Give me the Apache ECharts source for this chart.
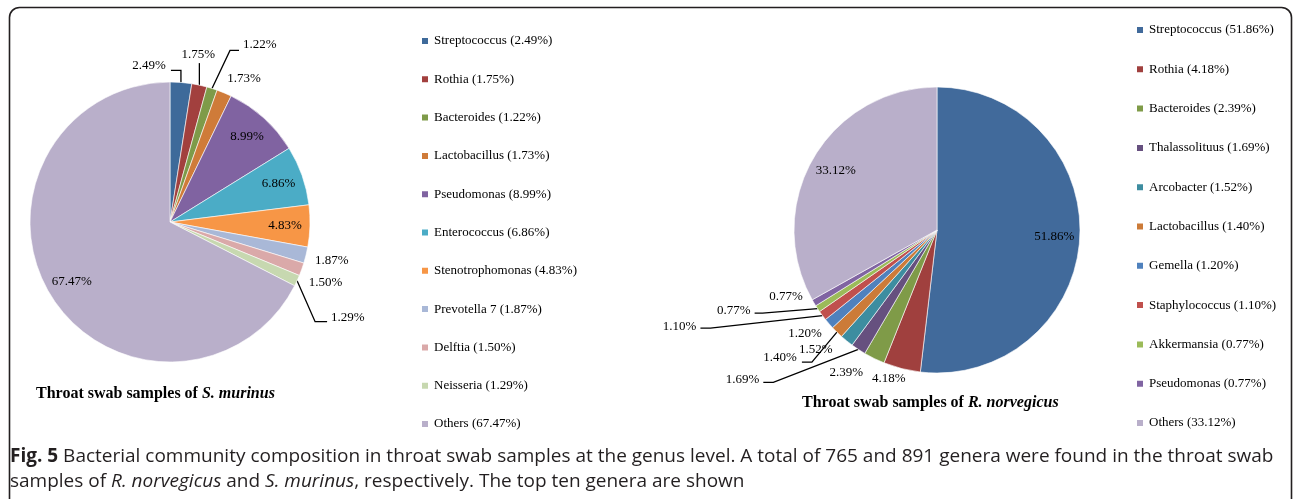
<!DOCTYPE html>
<html>
<head>
<meta charset="utf-8">
<script src="https://cdn.jsdelivr.net/npm/echarts@6.0.0/dist/echarts.min.js"></script>
<style>
    html, body { margin: 0; padding: 0; background: #fff; }
    #chart { width: 1295px; height: 499px; }
</style>
</head>
<body>
<div id="chart"></div>
<script>
    // S. murinus (left pie)
    const leftGenera = ['Streptococcus', 'Rothia', 'Bacteroides', 'Lactobacillus', 'Pseudomonas', 'Enterococcus',
        'Stenotrophomonas', 'Prevotella 7', 'Delftia', 'Neisseria', 'Others'];
    const leftValues = [2.49, 1.75, 1.22, 1.73, 8.99, 6.86, 4.83, 1.87, 1.50, 1.29, 67.47];

    // R. norvegicus (right pie)
    const rightGenera = ['Streptococcus', 'Rothia', 'Bacteroides', 'Thalassolituus', 'Arcobacter', 'Lactobacillus',
        'Gemella', 'Staphylococcus', 'Akkermansia', 'Pseudomonas', 'Others'];
    const rightValues = [51.86, 4.18, 2.39, 1.69, 1.52, 1.40, 1.20, 1.10, 0.77, 0.77, 33.12];

    const leftColors = ['#3E6A9A', '#A2403E', '#7E9B49', '#CF7B39', '#8063A1', '#4BACC6',
        '#F79646', '#A9B8D7', '#DAA9A9', '#C7D8B0', '#B9AFCA'];
    const rightColors = ['#416A9B', '#A0403E', '#7F9B48', '#66507F', '#3D8DA0', '#CC7B38',
        '#4F81BD', '#C0504D', '#9BBB59', '#8064A2', '#B9AFCA'];

    const serif = '"Liberation Serif", "Times New Roman", serif';
    const sans = '"Open Sans", "Noto Sans", sans-serif';

    const leftPie = {center: [170, 222], r: 140};
    const rightPie = {center: [937, 230], r: 143};

    // label spot for small slices, offset from the slice's outer edge (Excel-like leader lines)
    const leftPlace = [
        {text: [-15, -17], align: 'right', line: [[0, -12], [-10, -12]]},
        {text: [-1, -31], align: 'center', line: [[0, -22]]},
        {text: [31, -44], align: 'left', line: [[18, -38], [27, -38]]},
        {text: [3, -14], align: 'left'},
        null, null, null,
        {text: [9, 5], align: 'left'},
        {text: [7, 13], align: 'left'},
        {text: [34, 37], align: 'left', line: [[18, 41], [30, 41]]},
        null
    ];
    const rightPlace = [
        null,
        {text: [-13, 10], align: 'center'},
        {text: [-28, 14], align: 'center'},
        {text: [-99, 30], align: 'right', line: [[-85, 33], [-95, 33]]},
        {text: [-31, 9], align: 'center'},
        {text: [-40, 25], align: 'right', line: [[-25, 30], [-35, 30]]},
        {text: [-7, 10], align: 'right'},
        {text: [-126, 11], align: 'right', line: [[-112, 12.5], [-122, 12.5]]},
        {text: [-67, 1.5], align: 'right', line: [[-55, 4.5], [-63, 4.5]]},
        {text: [-11, -6], align: 'right'},
        null
    ];

    function legendName(g, v) {
        return g + ' (' + v.toFixed(2) + '%)';
    }

    function placer(pie, values, place) {
        const total = values.reduce((a, b) => a + b, 0);
        const mids = [];
        let acc = 0;
        values.forEach(v => {
            mids.push((acc + v / 2) / total * Math.PI * 2);
            acc += v;
        });
        return function (params) {
            const p = place[params.dataIndex];
            if (!p) return {};
            const a = mids[params.dataIndex];
            const x0 = pie.center[0] + pie.r * Math.sin(a);
            const y0 = pie.center[1] - pie.r * Math.cos(a);
            const out = {x: x0 + p.text[0], y: y0 + p.text[1], align: p.align, verticalAlign: 'middle'};
            if (p.line) {
                out.labelLinePoints = [[x0, y0]].concat(p.line.map(d => [x0 + d[0], y0 + d[1]]));
            }
            return out;
        };
    }

    function pieSeries(pie, genera, values, colors, place) {
        return {
            type: 'pie',
            center: pie.center,
            radius: pie.r,
            startAngle: 90,
            clockwise: true,
            avoidLabelOverlap: false,
            emphasis: {disabled: true},
            itemStyle: {borderColor: '#fff', borderWidth: 0.6},
            label: {
                position: 'outside',
                fontFamily: serif,
                fontSize: 13,
                color: '#000',
                formatter: p => p.value.toFixed(2) + '%'
            },
            labelLine: {show: true, lineStyle: {color: '#000', width: 1.3}},
            labelLayout: placer(pie, values, place),
            data: genera.map((g, i) => ({
                name: legendName(g, values[i]),
                value: values[i],
                itemStyle: {color: colors[i]},
                label: {show: !!place[i]},
                labelLine: {show: !!(place[i] && place[i].line)}
            }))
        };
    }

    // transparent ring carrying the labels of the big slices at ~0.8 r
    function innerLabels(pie, genera, values, place) {
        return {
            type: 'pie',
            center: pie.center,
            radius: [pie.r * 0.6, pie.r],
            startAngle: 90,
            clockwise: true,
            silent: true,
            emphasis: {disabled: true},
            itemStyle: {color: 'rgba(0,0,0,0)'},
            label: {
                position: 'inside',
                fontFamily: serif,
                fontSize: 13,
                color: '#000',
                formatter: p => p.value.toFixed(2) + '%'
            },
            labelLine: {show: false},
            data: genera.map((g, i) => ({
                name: legendName(g, values[i]),
                value: values[i],
                label: {show: !place[i]}
            }))
        };
    }

    function legendBox(left, top, gap, genera, values) {
        return {
            orient: 'vertical',
            left: left,
            top: top,
            padding: 0,
            itemWidth: 8,
            itemHeight: 8,
            itemGap: gap,
            icon: 'rect',
            selectedMode: false,
            textStyle: {fontFamily: serif, fontSize: 13, color: '#000', lineHeight: 14},
            data: genera.map((g, i) => legendName(g, values[i]))
        };
    }

    const titleRich = {
        b: {fontFamily: serif, fontSize: 16, fontWeight: 'bold', color: '#000'},
        bi: {fontFamily: serif, fontSize: 16, fontWeight: 'bold', fontStyle: 'italic', color: '#000'}
    };
    const capRich = {
        fb: {fontFamily: sans, fontSize: 19, fontWeight: 'bold', fill: '#231f20'},
        n: {fontFamily: sans, fontSize: 19, fill: '#231f20'},
        i: {fontFamily: sans, fontSize: 19, fontStyle: 'italic', fill: '#231f20'}
    };

    const option = {
        animation: false,
        backgroundColor: '#fff',
        title: [
            {
                text: '{b|Throat swab samples of }{bi|S. murinus}',
                left: 36, top: 386, padding: 0,
                textStyle: {rich: titleRich}
            },
            {
                text: '{b|Throat swab samples of }{bi|R. norvegicus}',
                left: 802, top: 395, padding: 0,
                textStyle: {rich: titleRich}
            }
        ],
        legend: [
            legendBox(420, 34, 24.3, leftGenera, leftValues),
            legendBox(1135, 23, 25.3, rightGenera, rightValues)
        ],
        series: [
            pieSeries(leftPie, leftGenera, leftValues, leftColors, leftPlace),
            pieSeries(rightPie, rightGenera, rightValues, rightColors, rightPlace),
            innerLabels(leftPie, leftGenera, leftValues, leftPlace),
            innerLabels(rightPie, rightGenera, rightValues, rightPlace)
        ],
        graphic: [
            {
                type: 'rect',
                silent: true,
                shape: {x: 9.5, y: 7.5, width: 1282, height: 600, r: 10},
                style: {fill: 'none', stroke: '#231f20', lineWidth: 1.6}
            },
            {
                type: 'text',
                x: 10, y: 457,
                style: {
                    text: '{fb|Fig. 5}{n| Bacterial community composition in throat swab samples at the genus level. A total of 765 and 891 genera were found in the throat swab}',
                    rich: capRich,
                    verticalAlign: 'middle'
                }
            },
            {
                type: 'text',
                x: 10, y: 482,
                style: {
                    text: '{n|samples of }{i|R. norvegicus}{n| and }{i|S. murinus}{n|, respectively. The top ten genera are shown}',
                    rich: capRich,
                    verticalAlign: 'middle'
                }
            }
        ]
    };

    echarts.init(document.getElementById('chart')).setOption(option);
</script>
</body>
</html>
